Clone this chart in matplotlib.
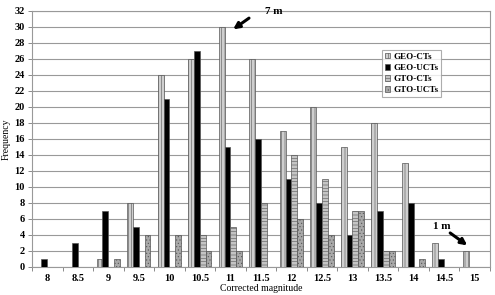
import matplotlib
matplotlib.use('Agg')
import matplotlib.pyplot as plt
import numpy as np

# magnitudes on the x axis
mags = ['8', '8.5', '9', '9.5', '10', '10.5', '11', '11.5', '12', '12.5',
        '13', '13.5', '14', '14.5', '15']
geo_cts = [0, 0, 1, 8, 24, 26, 30, 26, 17, 20, 15, 18, 13, 3, 2]
geo_ucts = [1, 3, 7, 5, 21, 27, 15, 16, 11, 8, 4, 7, 8, 1, 0]
gto_cts = [0, 0, 0, 0, 0, 4, 5, 8, 14, 11, 7, 2, 0, 0, 0]
gto_ucts = [0, 0, 1, 4, 4, 2, 2, 0, 6, 4, 7, 2, 1, 0, 0]

plt.rcParams['font.family'] = ['Liberation Serif', 'DejaVu Serif']
plt.rcParams['font.weight'] = 'bold'
plt.rcParams['hatch.linewidth'] = 0.4

fig = plt.figure(figsize=(4.95, 2.95), dpi=100)
ax = fig.add_axes([0.0646, 0.095, 0.925, 0.868])

x = np.arange(len(mags))
w = 0.19
series = [
    (geo_cts, 'GEO-CTs', '#cfcfcf', '|||||'),
    (geo_ucts, 'GEO-UCTs', 'black', None),
    (gto_cts, 'GTO-CTs', '#c4c4c4', '-----'),
    (gto_ucts, 'GTO-UCTs', '#a8a8a8', '.....'),
]
for k, (vals, name, col, hatch) in enumerate(series):
    ax.bar(x + (k - 1.5) * w, vals, w, color=col, label=name, hatch=hatch,
           edgecolor='#555555', linewidth=0.5, zorder=3)

ax.set_xlim(-0.5, len(mags) - 0.5)
ax.set_ylim(0, 32)
ax.set_yticks(range(0, 33, 2))
ax.set_xticks(x)
ax.set_xticklabels(mags)
ax.set_xticks(np.arange(len(mags) + 1) - 0.5, minor=True)
ax.tick_params(axis='x', which='major', length=0, pad=5, labelsize=7.5)
ax.tick_params(axis='x', which='minor', length=3, width=0.6, color='#777777')
ax.tick_params(axis='y', length=3, width=0.6, color='#777777', labelsize=7.5, pad=2)
ax.grid(axis='y', color='#999999', linewidth=0.8, zorder=0)
for s in ax.spines.values():
    s.set_color('#999999')
    s.set_linewidth(0.8)

ax.set_ylabel('Frequency', fontsize=7, labelpad=3)
ax.set_xlabel('Corrected magnitude', fontsize=7, labelpad=1)

# annotations: label text plus a thick arrow
arrow = dict(arrowstyle='-|>', color='black', lw=2.2, shrinkA=0, shrinkB=0,
             mutation_scale=9)
ax.text(7.43, 31.9, '7 m', fontsize=8, ha='center', va='center')
ax.annotate('', xy=(6.09, 29.7), xytext=(6.61, 31.1), arrowprops=arrow)
ax.text(12.94, 5.1, '1 m', fontsize=8, ha='center', va='center')
ax.annotate('', xy=(13.76, 2.7), xytext=(13.2, 4.25), arrowprops=arrow)

leg = ax.legend(loc='upper left', bbox_to_anchor=(0.755, 0.865), fontsize=6.5,
                frameon=True, fancybox=False, handlelength=0.6, handleheight=0.6,
                handletextpad=0.3, borderpad=0.3, labelspacing=0.35)
leg.get_frame().set_edgecolor('#999999')
leg.get_frame().set_linewidth(0.8)

fig.savefig('out.png', dpi=100)
